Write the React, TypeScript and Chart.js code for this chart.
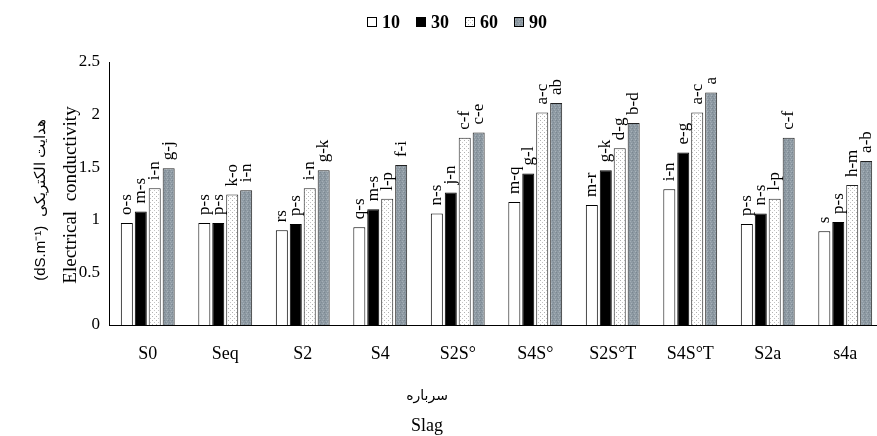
import React, { useEffect, useRef } from "react";
import { Chart, registerables } from "chart.js";

Chart.register(...registerables);

const categories = ["S0", "Seq", "S2", "S4", "S2S°", "S4S°", "S2S°T", "S4S°T", "S2a", "s4a"];
const seriesNames = ["10", "30", "60", "90"];
const values10 = [0.97, 0.97, 0.9, 0.93, 1.06, 1.17, 1.14, 1.29, 0.96, 0.89];
const values30 = [1.08, 0.97, 0.96, 1.1, 1.26, 1.44, 1.47, 1.64, 1.06, 0.98];
const values60 = [1.3, 1.24, 1.3, 1.2, 1.78, 2.02, 1.68, 2.02, 1.2, 1.33];
const values90 = [1.49, 1.28, 1.47, 1.52, 1.83, 2.11, 1.92, 2.21, 1.78, 1.56];
const letters10 = ["o-s", "p-s", "rs", "q-s", "n-s", "m-q", "m-r", "i-n", "p-s", "s"];
const letters30 = ["m-s", "p-s", "p-s", "m-s", "j-n", "g-l", "g-k", "e-g", "n-s", "p-s"];
const letters60 = ["i-n", "k-o", "i-n", "l-p", "c-f", "a-c", "d-g", "a-c", "l-p", "h-m"];
const letters90 = ["g-j", "i-n", "g-k", "f-i", "c-e", "ab", "b-d", "a", "c-f", "a-b"];
const yTicks = [0, 0.5, 1, 1.5, 2, 2.5];

function makePattern(base: string, dots: [number, number, string][], size: number) {
  const c = document.createElement("canvas");
  c.width = size;
  c.height = size;
  const g = c.getContext("2d")!;
  g.fillStyle = base;
  g.fillRect(0, 0, size, size);
  dots.forEach(([x, y, col]) => {
    g.fillStyle = col;
    g.fillRect(x, y, 1, 1);
  });
  const ctx = document.createElement("canvas").getContext("2d")!;
  return ctx.createPattern(c, "repeat") as CanvasPattern;
}

export default function App() {
  const ref = useRef<HTMLCanvasElement>(null);
  useEffect(() => {
    const canvas = ref.current!;
    const dotted = makePattern("#ffffff", [[0, 0, "#b0b0b0"], [2, 2, "#c4c4c4"]], 4);
    const grayPat = makePattern(
      "#8e9aa3",
      [[0, 0, "#7a8690"], [2, 1, "#a4aeb6"], [1, 2, "#7f8b95"], [3, 3, "#a8b2ba"]],
      4
    );
    const fills: any[] = ["#ffffff", "#000000", dotted, grayPat];
    const borders = ["#000000", "#000000", "#222222", "#222222"];
    const allVals = [values10, values30, values60, values90];
    const allLetters = [letters10, letters30, letters60, letters90];

    const labelPlugin = {
      id: "letters",
      afterDatasetsDraw(chart: any) {
        const ctx = chart.ctx;
        ctx.save();
        ctx.fillStyle = "#000";
        ctx.font = "17px 'Liberation Serif'";
        ctx.textAlign = "left";
        ctx.textBaseline = "middle";
        chart.data.datasets.forEach((ds: any, di: number) => {
          const meta = chart.getDatasetMeta(di);
          meta.data.forEach((el: any, i: number) => {
            ctx.save();
            ctx.translate(el.x, el.y - 8);
            ctx.rotate(-Math.PI / 2);
            ctx.fillText(allLetters[di][i], 0, 0);
            ctx.restore();
          });
        });
        ctx.restore();
      },
    };

    const decorPlugin = {
      id: "decor",
      afterDraw(chart: any) {
        const ctx = chart.ctx;
        ctx.save();
        // legend
        let x = 367;
        const ly = 22;
        ctx.font = "bold 18px 'Liberation Serif'";
        ctx.textBaseline = "middle";
        ctx.textAlign = "left";
        seriesNames.forEach((n, i) => {
          ctx.fillStyle = fills[i];
          ctx.fillRect(x, ly - 5, 10, 10);
          ctx.strokeStyle = "#000";
          ctx.lineWidth = 1;
          ctx.strokeRect(x + 0.5, ly - 4.5, 9, 9);
          ctx.fillStyle = "#000";
          ctx.fillText(n, x + 15, ly + 1);
          x += 49;
        });
        // y title
        const cy = 195;
        ctx.save();
        ctx.translate(71, cy);
        ctx.rotate(-Math.PI / 2);
        ctx.textAlign = "center";
        ctx.font = "19px 'Liberation Serif'";
        ctx.fillText("Electrical  conductivity", 0, 0);
        ctx.restore();
        ctx.save();
        ctx.translate(41, 200);
        ctx.rotate(-Math.PI / 2);
        ctx.textAlign = "center";
        ctx.font = "15px 'Liberation Sans'";
        ctx.fillText("(dS.m\u207B\u00B9)  هدایت الکتریکی", 0, 0);
        ctx.restore();
        // x title
        ctx.textAlign = "center";
        ctx.font = "14px 'DejaVu Sans'";
        ctx.fillText("سرباره", 427, 396);
        ctx.font = "18px 'Liberation Serif'";
        ctx.fillText("Slag", 427, 426);
        ctx.restore();
      },
    };

    const chart = new Chart(canvas, {
      type: "bar",
      data: {
        labels: categories,
        datasets: seriesNames.map((n, i) => ({
          label: n,
          data: allVals[i],
          backgroundColor: fills[i],
          borderColor: borders[i],
          borderWidth: 1,
          categoryPercentage: 0.72,
          barPercentage: 0.86,
        })),
      },
      options: {
        responsive: false,
        animation: false,
        layout: { padding: { top: 62, right: 3, left: 0, bottom: 0 } },
        plugins: {
          legend: { display: false },
          tooltip: { enabled: false },
        },
        scales: {
          x: {
            grid: { display: false, drawTicks: false },
            border: { display: true, color: "#000", width: 1 },
            ticks: {
              color: "#000",
              font: { family: "'Liberation Serif'", size: 18 },
              padding: 18,
              maxRotation: 0,
              autoSkip: false,
            },
            afterFit: (s: any) => {
              s.height = 111;
            },
          },
          y: {
            min: 0,
            max: 2.5,
            grid: { display: false, drawTicks: false },
            border: { display: true, color: "#000", width: 1 },
            afterBuildTicks: (s: any) => {
              s.ticks = yTicks.map((v) => ({ value: v }));
            },
            ticks: {
              color: "#000",
              font: { family: "'Liberation Serif'", size: 17 },
              padding: 9,
              callback: (v: any) => String(v),
            },
            afterFit: (s: any) => {
              s.width = 109;
            },
          },
        },
      },
      plugins: [labelPlugin, decorPlugin],
    });
    return () => chart.destroy();
  }, []);

  return (
    <div style={{ position: "absolute", left: 0, top: 0, width: 877, height: 436, overflow: "hidden", background: "#fff" }}>
      <canvas ref={ref} width={887} height={436} style={{ width: 887, height: 436, display: "block" }} />
    </div>
  );
}
